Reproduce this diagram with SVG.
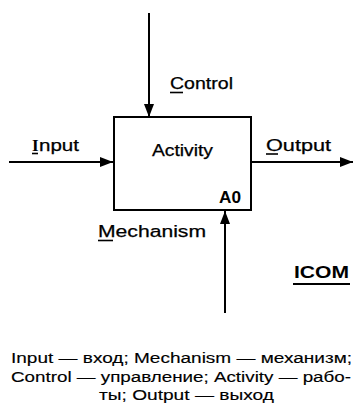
<svg xmlns="http://www.w3.org/2000/svg" width="357" height="414" viewBox="0 0 357 414">
<style>
.lbl{font-family:"Liberation Sans",Arial,sans-serif;font-size:16px;fill:#000;stroke:#000;stroke-width:0.25;}
.cap{font-family:"Liberation Sans",Arial,sans-serif;font-size:15.5px;fill:#000;stroke:#000;stroke-width:0.15;}
.b{font-weight:bold;stroke-width:0;}
.ser{font-family:"Liberation Serif","Times New Roman",serif;font-weight:bold;font-size:17px;fill:#000;}
.ul{stroke:#000;stroke-width:1.6;}
.conn{stroke:#000;stroke-width:2;fill:none;marker-end:url(#ah);}
.box{fill:#fff;stroke:#000;stroke-width:2;}
</style>
<defs>
<marker id="ah" markerUnits="userSpaceOnUse" markerWidth="14" markerHeight="11" refX="13" refY="5" orient="auto">
<path d="M0,0 L13,5 L0,10 z" fill="#000"/>
</marker>
</defs>
<rect width="357" height="414" fill="#fff"/>
<g id="connectors">
<line class="conn" x1="149" y1="13" x2="149" y2="117"/>
<line class="conn" x1="9" y1="162" x2="113" y2="162"/>
<line class="conn" x1="251" y1="162" x2="353" y2="162"/>
<line class="conn" x1="225" y1="313" x2="225" y2="211"/>
</g>
<g id="activity">
<rect class="box" x="114" y="117" width="137" height="93"/>
<text class="lbl" x="152" y="156" textLength="61" lengthAdjust="spacingAndGlyphs">Activity</text>
<text class="lbl b" x="219" y="203" textLength="22" lengthAdjust="spacingAndGlyphs">A0</text>
</g>
<g id="control">
<text class="lbl" x="170" y="89" textLength="63" lengthAdjust="spacingAndGlyphs">Control</text>
<line class="ul" x1="170" y1="92.5" x2="183" y2="92.5"/>
</g>
<g id="input">
<text class="ser" x="32" y="151">I</text>
<text class="lbl" x="39" y="151" textLength="40" lengthAdjust="spacingAndGlyphs">nput</text>
<line class="ul" x1="32" y1="153.5" x2="38" y2="153.5"/>
</g>
<g id="output">
<text class="lbl" x="266" y="151" textLength="65" lengthAdjust="spacingAndGlyphs">Output</text>
<line class="ul" x1="266" y1="154" x2="278" y2="154"/>
</g>
<g id="mechanism">
<text class="lbl" x="98" y="237" textLength="108" lengthAdjust="spacingAndGlyphs">Mechanism</text>
<line class="ul" x1="98" y1="240.5" x2="113" y2="240.5"/>
</g>
<g id="icom">
<text class="lbl b" x="294" y="278" textLength="55" lengthAdjust="spacingAndGlyphs">ICOM</text>
<line x1="293" y1="284" x2="350" y2="284" stroke="#000" stroke-width="2"/>
</g>
<g id="caption">
<text class="cap" x="11" y="363" textLength="341" lengthAdjust="spacingAndGlyphs">Input — вход; Mechanism — механизм;</text>
<text class="cap" x="11" y="382" textLength="340" lengthAdjust="spacingAndGlyphs">Control — управление; Activity — рабо-</text>
<text class="cap" x="99" y="400" textLength="175" lengthAdjust="spacingAndGlyphs">ты; Output — выход</text>
</g>
</svg>
